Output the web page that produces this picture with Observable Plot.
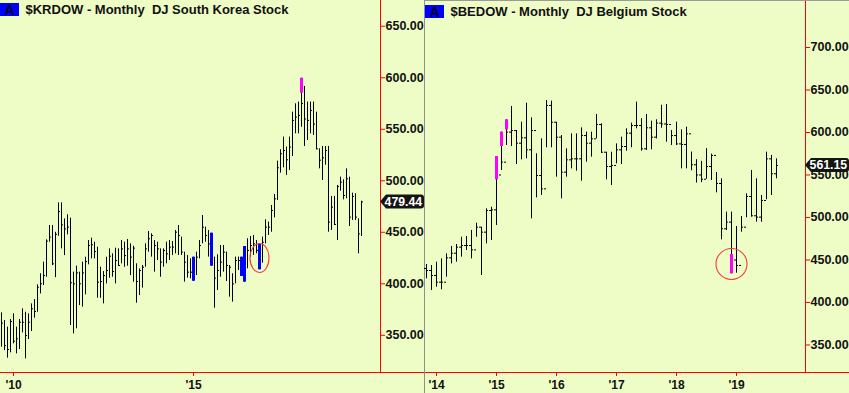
<!DOCTYPE html>
<html><head><meta charset="utf-8">
<script src="https://cdn.jsdelivr.net/npm/d3@7"></script>
<script src="https://cdn.jsdelivr.net/npm/@observablehq/plot@0.6"></script>
<style>
html,body{margin:0;padding:0;background:#eefcc6;}
#wrap{position:relative;width:849px;height:393px;display:flex;overflow:hidden;background:#eefcc6;}
.sep{width:1px;height:393px;background:#8f8f8f;flex:none;}
.topline{position:absolute;left:425px;top:0;width:424px;height:1px;background:#9a9a9a;}
.badge{position:absolute;background:#0000ff;color:#000022;font:bold 14px "Liberation Sans",Arial,sans-serif;width:19px;height:13px;line-height:14px;text-align:center;}
svg{display:block;flex:none;}
svg [aria-label$="tick label"] text, svg [aria-label$="tick label"]{font-weight:bold;fill:#111;}
</style></head><body><div id="wrap"></div>
<script>
// ---------- $KRDOW monthly (Sep 2009 .. Sep 2019) ----------
const krStart = "2009-09";
const krHigh = [371.8,364.3,357.9,365.3,370.8,357.9,365.3,375.7,372.4,370.8,
380.5,384.7,399,409.7,421,442.7,456.6,456.6,450,478.6,
478.6,463,467,463.7,411.3,417.1,411.3,421,425.8,442,
444.3,440.4,435.5,416.1,411.9,425.8,433.9,429.1,434.6,433.9,
442,440.4,443,438.8,436.5,419.4,414.5,417.8,438.8,450.8,
448.5,442,440.4,433.9,433.9,440.4,442,441.1,451.7,456.6,
445.3,430.7,427.5,424.2,425.8,430.7,442,466.3,455,451.7,
449.1,425.9,428.1,437.2,437.2,430.7,417.8,409.7,425.9,425.9,
425.8,436.2,443.7,445.9,446.9,442,438.1,445.3,462.1,459.9,
476,486.7,519.1,530.1,542.4,532.7,542.4,566.6,574.7,576.4,
599.5,591.6,576.4,576.4,576.4,566.6,531,533.3,533.3,533.3,
484.8,484.8,495.5,503.5,501,511.6,503.5,488,487.4,463,480.2];
const krLow = [338.5,335.2,327.8,333,341.7,332,336.2,352.4,327.1,345.9,
353.7,366.6,372.4,390.2,398.3,406.4,440.4,417.7,406,446.2,
433.9,427.4,447.5,359.5,351.4,356.3,378.9,377.3,389.3,418.4,
424.2,424.2,386,386,380.5,399.9,405.4,406.4,399.9,417.1,
419.4,416.1,417.1,408,401.6,381.2,388.6,395.8,416.1,430.7,
425.9,411.3,422.6,406.4,416.1,419.4,422.6,427.5,429.1,427.5,
427.5,401.6,405.5,404.8,402.5,408,424.2,438.8,440.4,425.9,
417.1,376.3,393.5,406.4,411.3,402.2,387,382.2,400,412.9,
407.1,401.6,414.5,425.9,427.5,429.1,413.6,420,438.8,446.9,
450.1,464,480.9,507.4,512.6,505.2,510,523.6,545.6,545.6,
552,533.3,539.1,545.6,544,530.1,511.6,500.3,515.1,450.1,
451.8,456.6,442,490,481.5,482.5,455.6,461.5,461.5,429.1,445.9];
const krClose = [361.8,340,336.2,363.4,344.3,346.6,362.7,362.7,349.8,362.7,
375.7,373.1,396.7,400,408,441.4,445.3,419.4,448,470.2,
457.2,453.3,455,401,400,410.6,400,410.6,421.6,437.2,
437.8,431.3,401.6,402.2,408,412.9,426.8,411.9,422.6,417.7,
433.9,427.4,433.9,425.9,434.6,402.2,412.9,416.1,433.9,443.7,
446.9,437.2,433.9,421,432.3,429.1,435.6,435.6,450.1,446.9,
430.7,421,411.3,411.3,410,425.9,437.2,455,446.9,438.8,
430,405.5,412.9,421,430.7,417.8,416.1,400,422.6,422.6,
415,430,432.4,437.2,438.8,432.4,420,440.4,455,455,
471.2,482.5,512.6,526.2,529.4,520.4,532.7,558.6,561.8,563.4,
575,560,558.6,568.3,555,531,520,522.3,529.4,459.9,
474.4,457.6,494.5,498.7,485.7,501.9,464.7,484.8,464.7,448.5,479.44];
// highlighted bars (1-based bar number), segment and colour
const krHlBar = [65,71,81,82,87,101];
const krHlHi = [425.8,449.1,425.8,436.2,438.1,599.5];
const krHlLo = [402.5,417.1,407.1,401.6,413.6,585];
const krHlColor = ["#0000ff","#0000ff","#0000ff","#0000ff","#0000ff","#ff00ff"];
const krYTicks = [350,400,450,500,550,600,650];
const krXTicks = ["2010-01","2015-01"];
const krCircleBar = 87, krCircleValue = 424.6;

// ---------- $BEDOW monthly (Nov 2013 .. Sep 2019) ----------
const beStart = "2013-11";
const beHigh = [444.7,443.5,447.4,451.3,457.2,465.9,468.2,476.8,477.6,484.7,
493.3,488.6,510.2,512.1,571.7,600.4,614.9,630.6,602.3,612.1,
634.5,617.2,574.9,592.5,637.6,636.9,612.1,596.4,580.8,598.4,
598.4,605.5,600.4,600.4,621.2,610.2,576.8,576.8,586.6,594.5,
604.3,611,635.7,616.1,621.2,613.3,614.9,632,632.9,602.3,
612.1,603.1,606.3,577,568,566,581,574.5,553,545.5,
506.3,506.3,489.4,501.2,527.8,555.3,545.5,525.9,576.9,573,569];
const beLow = [427.8,414.1,418,414.9,429.8,445.4,447.4,453.3,461.1,451.3,
476.8,431.7,469,472.9,490.6,555.3,584.7,583.5,562.3,567.8,
569,498.4,523.1,525.9,582,582,547.4,521.9,547.4,557.2,
554.5,542.7,565.1,571,592.5,575.7,544.3,537.6,563.1,562.3,
578,582,604.3,578,578.8,579.6,592.5,605,588.6,584.7,
584.7,557.2,557.2,555,540.5,541,545,543.5,529,473.7,
484.7,433.7,434.5,482.7,499.6,500.4,494.5,494.5,520.8,525.9,545.5];
const beOpen = [440,437.6,431.7,423.9,423.9,452.5,458,465.1,467,467,
461.9,488.6,482.7,508.2,509,550,565.1,600.4,602.3,587.4,
593.7,579.6,602.3,549.4,533.7,631.8,612.1,594.5,553.3,567.8,
569,569,596.4,587.4,592.5,609.4,576.8,560,561.2,579.6,
583.5,599.2,608.2,608.2,580.8,605.5,594.5,611,610,609.4,
596.4,586.6,585.9,598.4,562,550,545,560,573,540,
486.7,494.5,450,443.5,488.6,524.7,502,500.4,520,569,551.4];
const beClose = [437.6,431.7,423.9,423.9,452.5,458,465.1,467,467,461.9,
488.6,482.7,508.2,509,560,565.1,600.4,602.3,587.4,593.7,
579.6,602.3,549.4,533.7,631.8,612.1,594.5,553.3,567.8,569,
569,596.4,587.4,592.5,609.4,576.8,560,561.2,579.6,583.5,
599.2,608.2,608.2,580.8,605.5,594.5,611,610,609.4,596.4,
586.6,585.9,598.4,562,550,545,560,573,540,486.7,
494.5,450,443.5,488.6,524.7,502,500.4,520,569,551.4,561.15];
const beHlBar = [15,16,17,62];
const beHlHi = [571.7,600.4,614.9,456.5];
const beHlLo = [544.3,583.5,603.1,433.7];
const beHlColor = ["#ff00ff","#ff00ff","#ff00ff","#ff00ff"];
const beYTicks = [350,400,450,500,550,600,650,700];
const beXTicks = ["2014-01","2015-01","2016-01","2017-01","2018-01","2019-01"];
const beCircleBar = 62, beCircleValue = 444.7;

// ---------- drawing ----------
const FONT = '"Liberation Sans", Arial, sans-serif';
const BG = "#eefcc6";
const mi = s => { const [y, m] = s.split("-").map(Number); return (y - 2000) * 12 + (m - 1); };
const yearLabel = d => "'" + String(2000 + Math.floor(d / 12)).slice(2);

function panel(o) {
  const W = 424, H = 393, MR = 44, MB = 21;
  const s = mi(o.start);
  const pxPerMonth = o.pxPerMonth;
  const plotW = W - MR;
  const x0 = s - 1 / pxPerMonth;
  const xDomain = [x0, x0 + plotW / pxPerMonth];
  const hlSet = new Set(o.hlBar.filter((b, i) => o.hlFull[i]));
  const data = o.high.map((h, i) => ({
    t: s + i, high: h, low: o.low[i], close: o.close[i],
    open: o.open ? o.open[i] : null, full: hlSet.has(i + 1)
  }));
  const hl = o.hlBar.map((b, i) => ({t: s + b - 1, hi: o.hlHi[i], lo: o.hlLo[i], color: o.hlColor[i]}));
  const tw = 2 / pxPerMonth;
  const last = o.close[o.close.length - 1];
  const marks = [
    Plot.ruleY([o.yDomain[0]], {stroke: "#ff0000", insetRight: -MR}),
    Plot.ruleX([xDomain[1]], {stroke: "#ff0000"}),
    Plot.axisY({anchor: "right", ticks: o.yTicks, tickFormat: d => d.toFixed(2), tickSize: 4, tickPadding: 1,
      stroke: "#ff0000", fill: "#111", fontSize: 12.5, fontWeight: "bold", label: null}),
    Plot.axisX({anchor: "bottom", ticks: o.xTicks.map(mi), tickFormat: yearLabel, tickSize: 4, tickPadding: 4,
      stroke: "#ff0000", fill: "#111", fontSize: 12, fontWeight: "bold", label: null}),
    Plot.ruleX(data, {x: "t", y1: "low", y2: "high", stroke: "#000", strokeWidth: 1}),
    Plot.ruleY(data.filter(d => !d.full), {y: "close", x1: "t", x2: d => d.t + tw, stroke: "#000", strokeWidth: 1}),
  ];
  if (o.open) marks.push(Plot.ruleY(data.filter(d => !d.full), {y: "open", x1: d => d.t - tw, x2: "t", stroke: "#000", strokeWidth: 1}));
  marks.push(
    Plot.ruleX(hl, {x: "t", y1: "lo", y2: "hi", stroke: "color", strokeWidth: 3}),
    (index, scales) => {
      const g = d3.create("svg:g");
      g.append("ellipse")
        .attr("cx", scales.x(s + o.circleBar - 1) + 0.5).attr("cy", scales.y(o.circleValue))
        .attr("rx", o.circleRx).attr("ry", o.circleRy)
        .attr("fill", "none").attr("stroke", "#f03c3c").attr("stroke-width", 1.1);
      return g.node();
    },
    (index, scales, values, dims) => {
      const g = d3.create("svg:g");
      const y = scales.y(last), xa = dims.width - dims.marginRight;
      const w = 44, h = 7, r = 3;
      g.append("path")
        .attr("d", `M${xa},${y}L${xa + 6},${y - h}L${xa + w - r},${y - h}Q${xa + w},${y - h} ${xa + w},${y - h + r}L${xa + w},${y + h - r}Q${xa + w},${y + h} ${xa + w - r},${y + h}L${xa + 6},${y + h}Z`)
        .attr("fill", "#141414");
      g.append("text").attr("x", xa + 4.6).attr("y", y).attr("dy", "0.36em")
        .attr("text-anchor", "start").attr("fill", "#fff")
        .attr("font-size", 12.3).attr("font-weight", "bold").attr("font-family", FONT)
        .text(last.toFixed(2));
      return g.node();
    },
    Plot.text([o.title], {text: d => d, frameAnchor: "top-left", dx: 25, dy: o.titleDy, textAnchor: "start",
      lineAnchor: "top", fontSize: 13, fontWeight: "bold", fill: "#111"})
  );
  return Plot.plot({
    width: W, height: H, marginLeft: 0, marginRight: MR, marginTop: 0, marginBottom: MB,
    style: {background: BG, fontFamily: FONT, overflow: "visible"},
    x: {type: "linear", domain: xDomain, axis: null},
    y: {domain: o.yDomain, axis: null},
    marks
  });
}

const wrap = document.getElementById("wrap");
wrap.append(panel({
  start: krStart, high: krHigh, low: krLow, close: krClose, open: null, pxPerMonth: 3,
  hlBar: krHlBar, hlHi: krHlHi, hlLo: krHlLo, hlColor: krHlColor, hlFull: [true, true, true, true, true, false],
  yDomain: [313.9, 675], yTicks: krYTicks, xTicks: krXTicks,
  circleBar: krCircleBar, circleValue: krCircleValue, circleRx: 9.5, circleRy: 14.5,
  title: "$KRDOW - Monthly\u00a0 DJ South Korea Stock", titleDy: 4.5
}));
const sep = document.createElement("div"); sep.className = "sep"; wrap.append(sep);
wrap.append(panel({
  start: beStart, high: beHigh, low: beLow, close: beClose, open: beOpen, pxPerMonth: 5,
  hlBar: beHlBar, hlHi: beHlHi, hlLo: beHlLo, hlColor: beHlColor, hlFull: [false, false, false, false],
  yDomain: [317.6, 755.3], yTicks: beYTicks, xTicks: beXTicks,
  circleBar: beCircleBar, circleValue: beCircleValue, circleRx: 15.5, circleRy: 15.5,
  title: "$BEDOW - Monthly\u00a0 DJ Belgium Stock", titleDy: 6.5
}));
const tl = document.createElement("div"); tl.className = "topline"; wrap.append(tl);
for (const [l, t] of [[0, 3], [425, 5]]) {
  const b = document.createElement("div"); b.className = "badge"; b.textContent = "A";
  b.style.left = l + "px"; b.style.top = t + "px"; wrap.append(b);
}
</script>
</body></html>
